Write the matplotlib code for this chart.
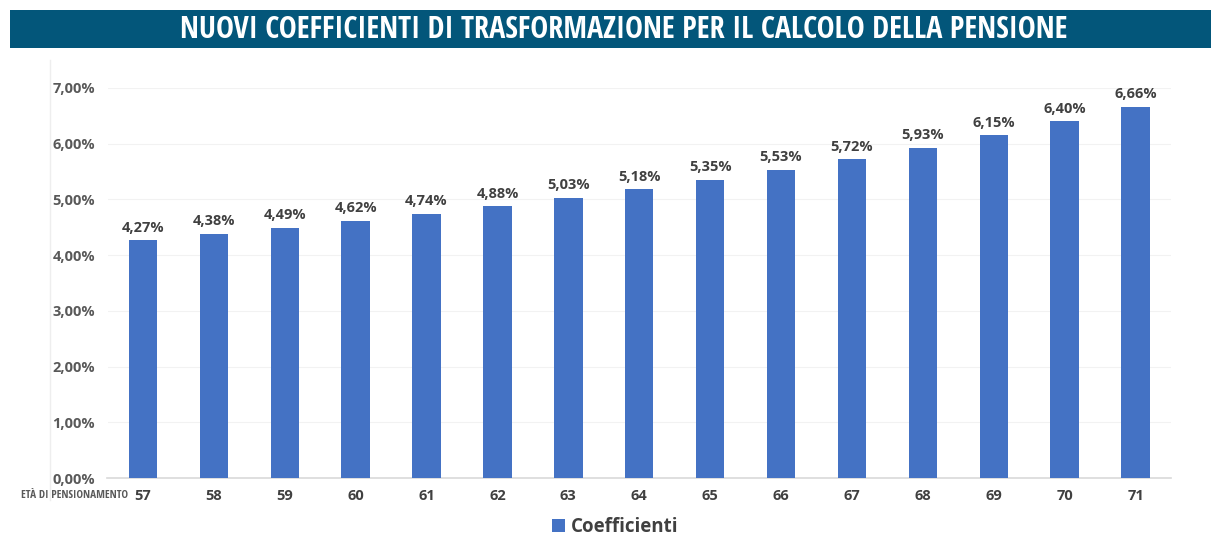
import matplotlib
matplotlib.use("Agg")
import matplotlib.pyplot as plt
from matplotlib.patches import Rectangle

ages = ["57", "58", "59", "60", "61", "62", "63", "64", "65", "66", "67", "68", "69", "70", "71"]
coefficients = [4.27, 4.38, 4.49, 4.62, 4.74, 4.88, 5.03, 5.18, 5.35, 5.53, 5.72, 5.93, 6.15, 6.40, 6.66]
yticks = [0, 1, 2, 3, 4, 5, 6, 7]
title = "NUOVI COEFFICIENTI DI TRASFORMAZIONE PER IL CALCOLO DELLA PENSIONE"
series_name = "Coefficienti"
xlabel_text = "ETÀ DI PENSIONAMENTO"

COND = ["Open Sans Condensed", "DejaVu Sans"]

def fmt(v):
    return f"{v:.2f}%".replace(".", ",")

fig = plt.figure(figsize=(12.11, 5.36), dpi=100)
fig.patch.set_facecolor("white")

# title banner
fig.patches.append(Rectangle((10/1211, 1-48/536), 1 - 10/1211, 38/536, transform=fig.transFigure,
                             facecolor="#03567a", edgecolor="none", zorder=0))
fig.text(0.515, 1-30/536, title, ha="center", va="center", color="white",
         fontsize=21.8, fontweight="bold", family=COND)

ax = fig.add_axes([107.5/1211, 58/536, (1171-107.5)/1211, (478-88)/536])
x = list(range(len(ages)))
bars = ax.bar(x, coefficients, width=0.4, color="#4472c4", zorder=3, label=series_name)
ax.set_xlim(-0.5, len(ages) - 0.5)
ax.set_ylim(0, 7)
ax.set_yticks(yticks)
ax.set_yticklabels([fmt(v) for v in yticks], fontsize=10.5, fontweight="bold", color="#595959",
                   family="Open Sans")
ax.set_xticks(x)
ax.set_xticklabels(ages, fontsize=10.5, fontweight="bold", color="#404040", family="Open Sans")
ax.tick_params(axis="x", length=0, pad=8)
ax.tick_params(axis="y", length=0, pad=9)
ax.grid(axis="y", color="#f2f2f2", linewidth=0.8, zorder=0)
for s in ["top", "right", "left"]:
    ax.spines[s].set_visible(False)
ax.spines["bottom"].set_color("#d9d9d9")
ax.spines["bottom"].set_linewidth(1.2)

for xi, v in zip(x, coefficients):
    ax.annotate(fmt(v), (xi, v), xytext=(0, 4), textcoords="offset points", ha="center", va="bottom",
                fontsize=10.5, fontweight="bold", color="#404040", family="Open Sans")

fig.text(128/1211, 1-495/536, xlabel_text, ha="right", va="center", fontsize=8, fontweight="bold",
         color="#595959", family=COND)

# faint left border line
fig.add_artist(plt.Line2D([50/1211, 50/1211], [1-500/536, 1-60/536], transform=fig.transFigure,
                          color="#eeeeee", linewidth=1))

leg = fig.legend(handles=[bars], labels=[series_name], loc="center", bbox_to_anchor=(0.508, 1-527/536),
                 frameon=False, handlelength=0.7, handleheight=0.7, handletextpad=0.3,
                 prop={"family": "Open Sans", "weight": "bold", "size": 13.5})
for t in leg.get_texts():
    t.set_color("#404040")

fig.savefig("out.png", dpi=100)
